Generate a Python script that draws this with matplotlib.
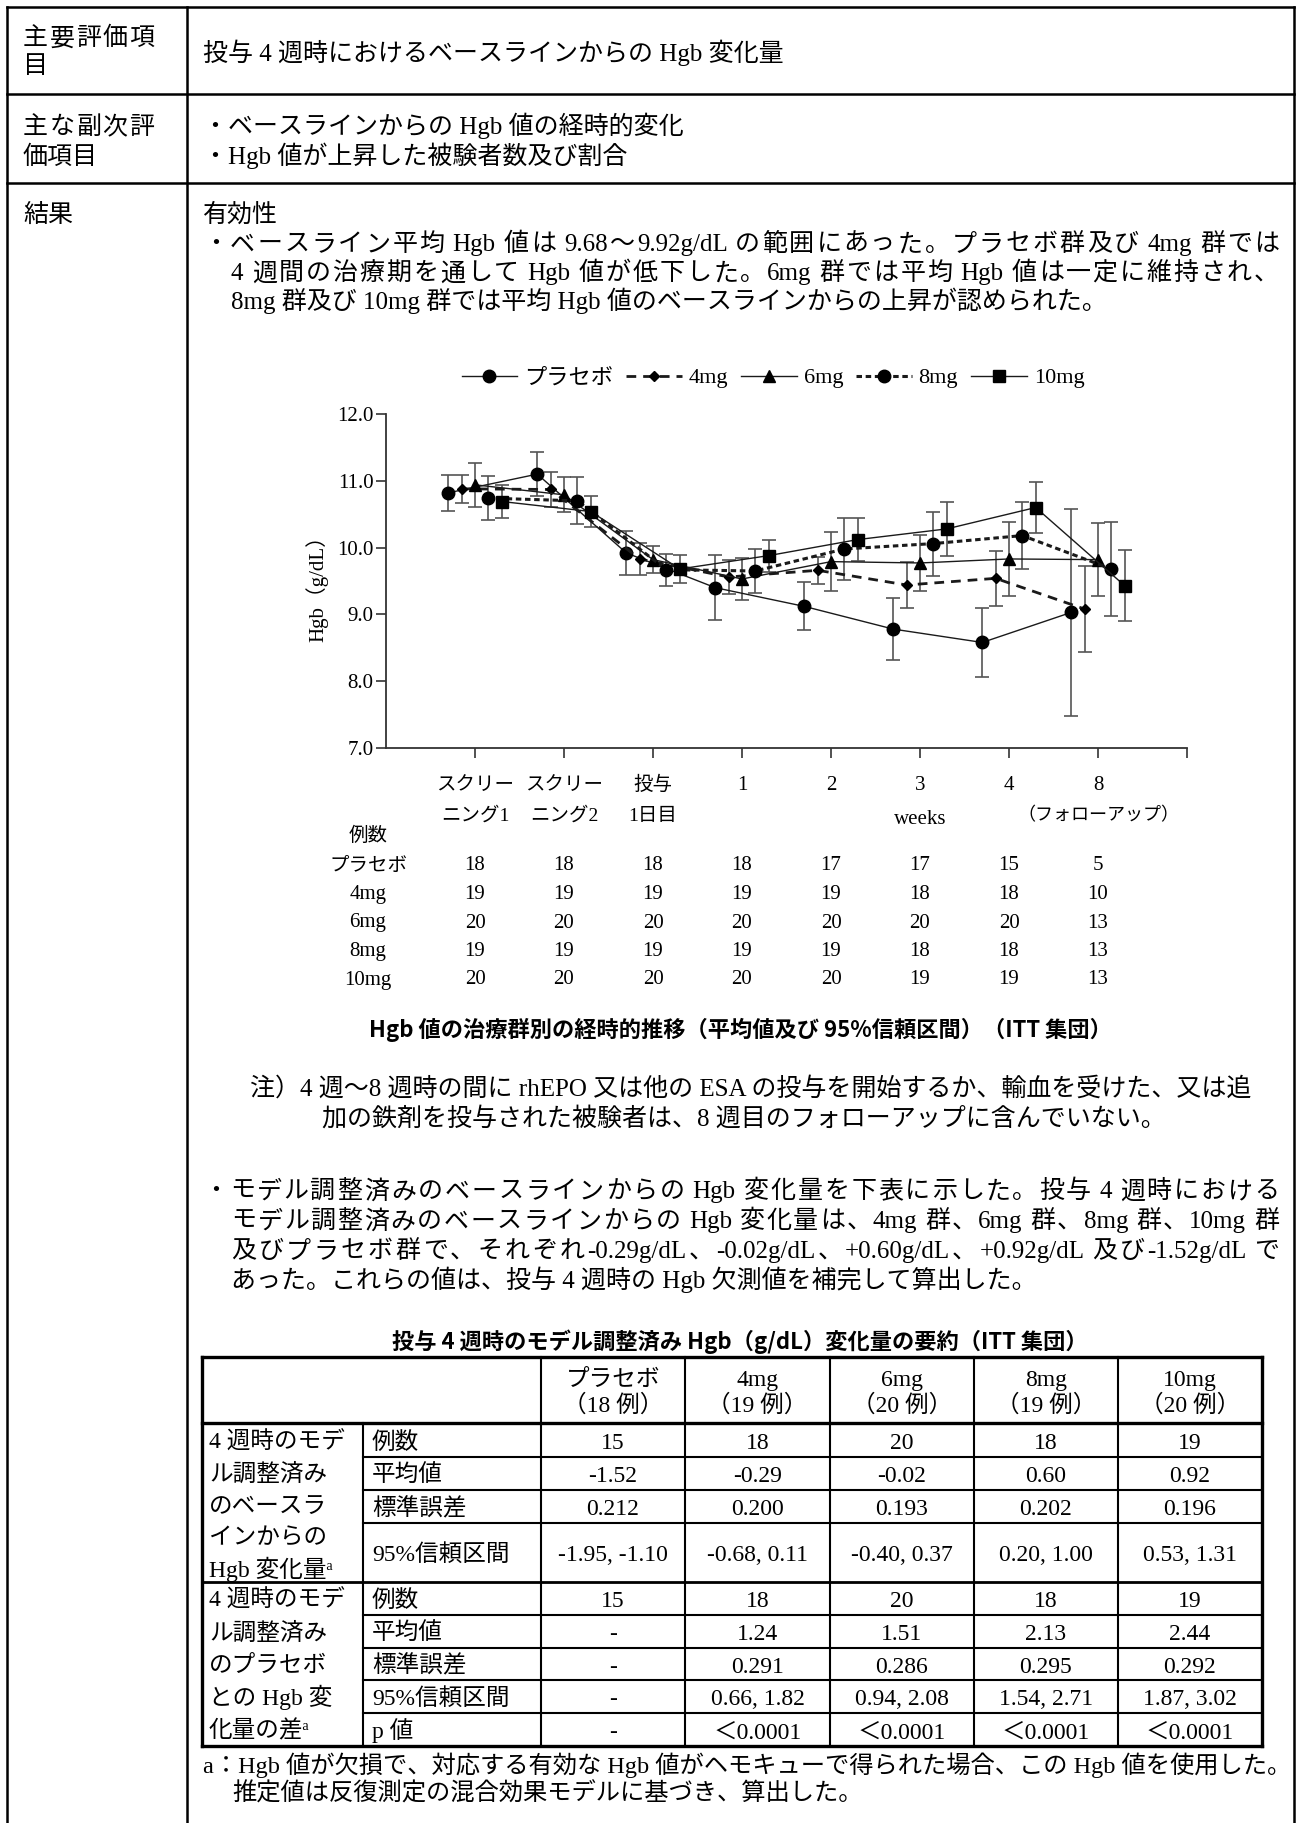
import matplotlib
matplotlib.use("Agg")
import matplotlib.pyplot as plt
from matplotlib.lines import Line2D
from matplotlib.transforms import blended_transform_factory

plt.rcParams["font.family"] = ["Liberation Serif", "Noto Sans CJK JP", "DejaVu Sans"]

# Hgb means and 95% CI half widths by visit
visits = ["スクリー\nニング1", "スクリー\nニング2", "投与\n1日目", "1", "2", "3", "4", "8"]
groups = ["プラセボ", "4mg", "6mg", "8mg", "10mg"]
placebo_mean = [10.82, 11.10, 9.92, 9.40, 9.12, 8.78, 8.58, 9.03]
placebo_ci = [0.27, 0.33, 0.33, 0.49, 0.36, 0.46, 0.52, 1.55]
mg4_mean = [10.88, 10.87, 9.83, 9.56, 9.66, 9.44, 9.54, 9.08]
mg4_ci = [0.21, 0.26, 0.24, 0.26, 0.20, 0.34, 0.41, 0.65]
mg6_mean = [10.94, 10.79, 9.82, 9.53, 9.79, 9.77, 9.83, 9.82]
mg6_ci = [0.33, 0.26, 0.20, 0.31, 0.44, 0.42, 0.55, 0.55]
mg8_mean = [10.74, 10.70, 9.67, 9.65, 9.98, 10.06, 10.18, 9.68]
mg8_ci = [0.33, 0.35, 0.24, 0.33, 0.46, 0.48, 0.50, 0.70]
mg10_mean = [10.69, 10.54, 9.68, 9.88, 10.12, 10.28, 10.60, 9.43]
mg10_ci = [0.24, 0.23, 0.21, 0.24, 0.32, 0.41, 0.38, 0.53]

# subjects per visit
n_placebo = [18, 18, 18, 18, 17, 17, 15, 5]
n_4mg = [19, 19, 19, 19, 19, 18, 18, 10]
n_6mg = [20, 20, 20, 20, 20, 20, 20, 13]
n_8mg = [19, 19, 19, 19, 19, 18, 18, 13]
n_10mg = [20, 20, 20, 20, 20, 19, 19, 13]

# summary table at week 4
tbl_head = ["プラセボ\n（18 例）", "4mg\n（19 例）", "6mg\n（20 例）", "8mg\n（19 例）", "10mg\n（20 例）"]
base_n = ["15", "18", "20", "18", "19"]
base_mean = ["-1.52", "-0.29", "-0.02", "0.60", "0.92"]
base_se = ["0.212", "0.200", "0.193", "0.202", "0.196"]
base_ci = ["-1.95, -1.10", "-0.68, 0.11", "-0.40, 0.37", "0.20, 1.00", "0.53, 1.31"]
diff_n = ["15", "18", "20", "18", "19"]
diff_mean = ["-", "1.24", "1.51", "2.13", "2.44"]
diff_se = ["-", "0.291", "0.286", "0.295", "0.292"]
diff_ci = ["-", "0.66, 1.82", "0.94, 2.08", "1.54, 2.71", "1.87, 3.02"]
diff_p = ["-", "＜0.0001", "＜0.0001", "＜0.0001", "＜0.0001"]

W, H = 1301, 1823
fig = plt.figure(figsize=(W / 100, H / 100), dpi=100)
renderer = fig.canvas.get_renderer()


def fx(x):
    return x / W


def fy(y):
    return 1 - y / H


def put(x, y, s, size=18, **kw):
    # y is the visual middle of a CJK glyph, placed on a common baseline
    if "va" not in kw:
        kw["va"] = "baseline"
        y = y + 0.37 * size * 100 / 72
    return fig.text(fx(x), fy(y), s, fontsize=size, **kw)


def text_width(s, size):
    t = fig.text(0, 0, s, fontsize=size)
    w = t.get_window_extent(renderer).width
    t.remove()
    return w


def justified(x0, y, s, right, size=18):
    # spread the line out to the right margin, keeping latin runs together
    starts = [i for i, ch in enumerate(s) if ch != " " and (
        i == 0 or s[i - 1] == " " or not ch.isascii() or not s[i - 1].isascii())]
    ends = starts[1:] + [len(s)]
    lefts = [0.0 if a == 0 else text_width(s[:a + 1], size) - text_width(s[a], size)
             for a in starts]
    gap = (right - x0 - text_width(s, size)) / (len(starts) - 1)
    for k, (a, b) in enumerate(zip(starts, ends)):
        put(x0 + lefts[k] + k * gap, y, s[a:b].rstrip(), size)


def seg(x0, y0, x1, y1, lw=1.8):
    fig.add_artist(Line2D([fx(x0), fx(x1)], [fy(y0), fy(y1)], lw=lw,
                          color="black", transform=fig.transFigure,
                          solid_capstyle="projecting"))


# page frame
L, R, C = 7, 1294, 187
seg(L, 7, R, 7)
seg(L, 94, R, 94)
seg(L, 183, R, 183)
seg(L, 7, L, H)
seg(R, 7, R, H)
seg(C, 7, C, H)

RM = 1279
justified(23, 36, "主要評価項", 154)
put(23, 64, "目")
put(203, 52, "投与 4 週時におけるベースラインからの Hgb 変化量")
justified(23, 125, "主な副次評", 154)
put(23, 155, "価項目")
put(203, 125, "・ベースラインからの Hgb 値の経時的変化")
put(203, 155, "・Hgb 値が上昇した被験者数及び割合")
put(23, 213, "結果")
put(203, 213, "有効性")
justified(203, 242, "・ベースライン平均 Hgb 値は 9.68～9.92g/dL の範囲にあった。プラセボ群及び 4mg 群では", RM)
justified(231, 271, "4 週間の治療期を通して Hgb 値が低下した。6mg 群では平均 Hgb 値は一定に維持され、", RM)
put(231, 300, "8mg 群及び 10mg 群では平均 Hgb 値のベースラインからの上昇が認められた。")

# line chart
ax = fig.add_axes([fx(386), fy(748), (1187 - 386) / W, (748 - 414) / H])
series = [
    (placebo_mean, placebo_ci, "o", 9, "-", 1.0),
    (mg4_mean, mg4_ci, "D", 5.5, (0, (3.5, 2.5)), 2.0),
    (mg6_mean, mg6_ci, "^", 9, "-", 1.0),
    (mg8_mean, mg8_ci, "o", 9, (0, (1.8, 1.2)), 2.2),
    (mg10_mean, mg10_ci, "s", 8.5, "-", 1.0),
]
offsets = [-0.3, -0.15, 0.0, 0.15, 0.3]
handles = []
for (m, ci, mk, ms, ls, lw), off, name in zip(series, offsets, groups):
    xs = [i + 1 + off for i in range(len(m))]
    ax.errorbar(xs, m, yerr=ci, fmt="none", ecolor="#555555", elinewidth=1.2,
                capsize=5, capthick=1.2, zorder=2)
    ax.plot(xs, m, color="#1a1a1a", ls=ls, lw=lw, marker=mk, ms=ms,
            mfc="black", mec="black", zorder=3)
    handles.append(Line2D([], [], color="#1a1a1a", ls=ls, lw=lw, marker=mk,
                          ms=ms, mfc="black", mec="black"))

ax.set_xlim(0, 9)
ax.set_ylim(7, 12)
ax.set_xticks(range(1, 10))
ax.set_xticklabels([])
ax.set_yticks([7, 8, 9, 10, 11, 12])
ax.set_yticklabels(["7.0", "8.0", "9.0", "10.0", "11.0", "12.0"], fontsize=15)
ax.tick_params(direction="out", length=7, width=1.2, color="#333333", pad=2)
for s in ["top", "right"]:
    ax.spines[s].set_visible(False)
for s in ["left", "bottom"]:
    ax.spines[s].set_linewidth(1.3)
    ax.spines[s].set_color("#333333")
ax.patch.set_alpha(0)
put(317, 583, "Hgb（g/dL）", size=15, rotation=90, ha="center", va="center")

fig.legend(handles, groups, loc="center", bbox_to_anchor=(fx(773), fy(378)),
           bbox_transform=fig.transFigure, ncol=5, frameon=False, fontsize=16,
           handlelength=2.5, handletextpad=0.3, columnspacing=0.6)

# visit labels and counts under the axis
tr = blended_transform_factory(ax.transData, fig.transFigure)
for i, lab in enumerate(visits):
    lines = lab.split("\n")
    for j, t in enumerate(lines):
        ax.text(i + 1, fy(785 + 31 * j), t, transform=tr, ha="center",
                va="center", fontsize=15 if t.isdigit() else 14)
ax.text(6, fy(820), "weeks", transform=tr, ha="center", va="center", fontsize=15)
ax.text(8, fy(816), "（フォローアップ）", transform=tr, ha="center", va="center",
        fontsize=13)

put(368, 836, "例数", size=14, ha="center", va="center")
count_rows = [n_placebo, n_4mg, n_6mg, n_8mg, n_10mg]
for k, (name, row) in enumerate(zip(groups, count_rows)):
    y = 866 + 28.5 * k
    put(368, y, name, size=14 if k == 0 else 15, ha="center", va="center")
    for i, n in enumerate(row):
        ax.text(i + 1, fy(y), str(n), transform=tr, ha="center", va="center",
                fontsize=15)

put(740, 1030, "Hgb 値の治療群別の経時的推移（平均値及び 95%信頼区間）（ITT 集団）",
    size=16, ha="center", va="center", family="Noto Sans CJK JP", weight="bold")

put(250, 1086, "注）4 週～8 週時の間に rhEPO 又は他の ESA の投与を開始するか、輸血を受けた、又は追")
put(322, 1116, "加の鉄剤を投与された被験者は、8 週目のフォローアップに含んでいない。")

justified(203, 1189, "・モデル調整済みのベースラインからの Hgb 変化量を下表に示した。投与 4 週時における", RM)
justified(231, 1219, "モデル調整済みのベースラインからの Hgb 変化量は、4mg 群、6mg 群、8mg 群、10mg 群", RM)
justified(231, 1249, "及びプラセボ群で、それぞれ-0.29g/dL、-0.02g/dL、+0.60g/dL、+0.92g/dL 及び-1.52g/dL で", RM)
put(231, 1279, "あった。これらの値は、投与 4 週時の Hgb 欠測値を補完して算出した。")

put(740, 1342, "投与 4 週時のモデル調整済み Hgb（g/dL）変化量の要約（ITT 集団）",
    size=16, ha="center", va="center", family="Noto Sans CJK JP", weight="bold")

# summary table
cols = [202, 363, 541, 685, 830, 974, 1118, 1262]
rows = [1357, 1423, 1457, 1490, 1523, 1582, 1615, 1648, 1680, 1713, 1746]
TS = 17
seg(cols[0], rows[0], cols[-1], rows[0], 2.4)
seg(cols[0], rows[-1], cols[-1], rows[-1], 2.4)
seg(cols[0], rows[0], cols[0], rows[-1], 2.4)
seg(cols[-1], rows[0], cols[-1], rows[-1], 2.4)
seg(cols[0], rows[1], cols[-1], rows[1], 2.4)
seg(cols[0], rows[5], cols[-1], rows[5], 2.0)
for r in [rows[2], rows[3], rows[4], rows[6], rows[7], rows[8], rows[9]]:
    seg(cols[1], r, cols[-1], r, 1.5)
seg(cols[1], rows[1], cols[1], rows[-1], 1.5)
for c in cols[2:-1]:
    seg(c, rows[0], c, rows[-1], 1.5)

for k, h in enumerate(tbl_head):
    xc = (cols[k + 2] + cols[k + 3]) / 2
    top, bot = h.split("\n")
    put(xc, 1377, top, size=TS, ha="center")
    put(xc, 1403, bot, size=TS, ha="center")

items = ["例数", "平均値", "標準誤差", "95%信頼区間", "例数", "平均値", "標準誤差",
         "95%信頼区間", "p 値"]
values = [base_n, base_mean, base_se, base_ci, diff_n, diff_mean, diff_se,
          diff_ci, diff_p]
for r, (item, vals) in enumerate(zip(items, values)):
    yc = (rows[r + 1] + rows[r + 2]) / 2
    put(cols[1] + 9, yc, item, size=TS)
    for k, v in enumerate(vals):
        put((cols[k + 2] + cols[k + 3]) / 2, yc, v, size=TS, ha="center")

grp1 = ["4 週時のモデ", "ル調整済み", "のベースラ", "インからの", "Hgb 変化量ᵃ"]
grp2 = ["4 週時のモデ", "ル調整済み", "のプラセボ", "との Hgb 変", "化量の差ᵃ"]
for j, t in enumerate(grp1):
    put(209, 1440 + 32 * j, t, size=TS)
for j, t in enumerate(grp2):
    put(209, 1598 + 32.7 * j, t, size=TS)

put(203, 1764, "a：Hgb 値が欠損で、対応する有効な Hgb 値がヘモキューで得られた場合、この Hgb 値を使用した。", size=17.5)
put(232, 1792, "推定値は反復測定の混合効果モデルに基づき、算出した。", size=17.5)

fig.savefig("out.png", dpi=100, facecolor="white")
